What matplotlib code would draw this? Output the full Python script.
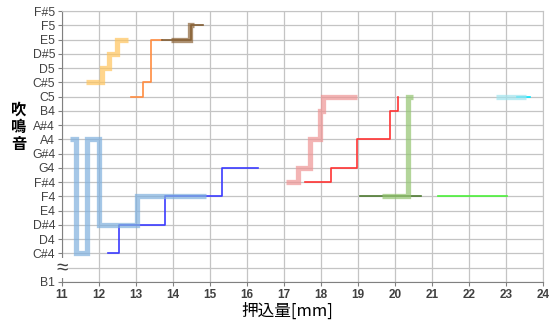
import matplotlib
matplotlib.use("Agg")
import matplotlib.pyplot as plt

plt.rcParams['font.family'] = ['Liberation Sans', 'Noto Sans CJK JP', 'DejaVu Sans']

# note names on the y axis (index = position on axis)
notes = ['B1', '', 'C#4', 'D4', 'D#4', 'E4', 'F4', 'F#4', 'G4', 'G#4', 'A4',
         'A#4', 'B4', 'C5', 'C#5', 'D5', 'D#5', 'E5', 'F5', 'F#5']
x_ticks = list(range(11, 25))

# each series: step break points (press depth mm) and note level (steps-post)
blue_thick_x = [11.22, 11.38, 11.67, 12.0, 13.02, 14.88]
blue_thick_y = [10, 2, 10, 4, 6, 6]
blue_x = [12.23, 12.54, 13.78, 15.33, 16.3]
blue_y = [2, 4, 6, 8, 8]
yellow_x = [11.65, 12.09, 12.27, 12.5, 12.79]
yellow_y = [14, 15, 16, 17, 17]
orange_x = [12.86, 13.2, 13.4, 13.7]
orange_y = [13, 14, 17, 17]
brown_thick_x = [13.95, 14.45, 14.56]
brown_thick_y = [17, 18, 18]
brown_x = [13.7, 14.5, 14.82]
brown_y = [17, 18, 18]
pink_x = [17.05, 17.38, 17.7, 17.97, 18.05, 18.97]
pink_y = [7, 8, 10, 12, 13, 13]
red_x = [17.57, 18.27, 18.98, 19.86, 20.07]
red_y = [7, 8, 10, 12, 13]
green_thick_x = [19.64, 20.35, 20.5]
green_thick_y = [6, 13, 13]
dkgreen_x = [19.05, 20.7]
dkgreen_y = [6, 6]
ltgreen_x = [21.17, 23.02]
ltgreen_y = [6, 6]
cyan_thick_x = [22.72, 23.55]
cyan_thick_y = [13, 13]
cyan_x = [23.3, 23.65]
cyan_y = [13, 13]

fig = plt.figure(figsize=(5.55, 3.22), dpi=100)
ax = fig.add_axes([62/555, 40/322, (543-62)/555, (282-11)/322])

# thin series first, thick semi transparent ones on top
thin = [(blue_x, blue_y, '#3B3BFF'),
        (orange_x, orange_y, '#FF8C40'),
        (brown_x, brown_y, '#7F5A30'),
        (red_x, red_y, '#FF3333'),
        (dkgreen_x, dkgreen_y, '#4E7A32'),
        (ltgreen_x, ltgreen_y, '#4CF03A'),
        (cyan_x, cyan_y, '#00E5FF')]
for xs, ys, c in thin:
    ax.plot(xs, ys, drawstyle='steps-post', color=c, lw=1.2, zorder=3)

thick = [(blue_thick_x, blue_thick_y, '#7FB0DE'),
         (yellow_x, yellow_y, '#FFC45C'),
         (brown_thick_x, brown_thick_y, '#8C6438'),
         (pink_x, pink_y, '#EE9494'),
         (green_thick_x, green_thick_y, '#93C470'),
         (cyan_thick_x, cyan_thick_y, '#A0E4EE')]
for xs, ys, c in thick:
    ax.plot(xs, ys, drawstyle='steps-post', color=c, lw=3.8, alpha=0.7,
            zorder=4, solid_joinstyle='miter', solid_capstyle='butt')

ax.set_xlim(11, 24)
ax.set_ylim(0, 19)
ax.set_xticks(x_ticks)
ax.set_xticklabels([str(t) for t in x_ticks], fontsize=8.5, fontweight='bold',
                   color='#404040')
ax.set_yticks(range(len(notes)))
ax.set_yticklabels(notes, fontsize=8.8, color='#404040')
ax.grid(True, color='#C4C4C4', lw=0.9)
ax.set_axisbelow(True)
ax.tick_params(axis='both', direction='out', length=3, color='#808080', pad=2)
for s in ['top', 'right']:
    ax.spines[s].set_color('#C4C4C4')
for s in ['left', 'bottom']:
    ax.spines[s].set_color('#808080')

# axis break mark
ax.text(11.0, 1, '≈', fontsize=15, ha='center', va='center', color='#404040',
        zorder=6, clip_on=False,
        bbox=dict(facecolor='white', edgecolor='none', pad=0.5))

fig.text(287/555, 1 - 311/322, '押込量[mm]', ha='center', va='center',
         fontsize=12, family=['Noto Sans CJK JP', 'DejaVu Sans'])
fig.text(19/555, 1 - 127/322, '吹\n鳴\n音', ha='center', va='center',
         fontsize=11, fontweight='bold', linespacing=1.1,
         family=['Noto Sans CJK JP', 'DejaVu Sans'])

fig.savefig('out.png', dpi=100)
